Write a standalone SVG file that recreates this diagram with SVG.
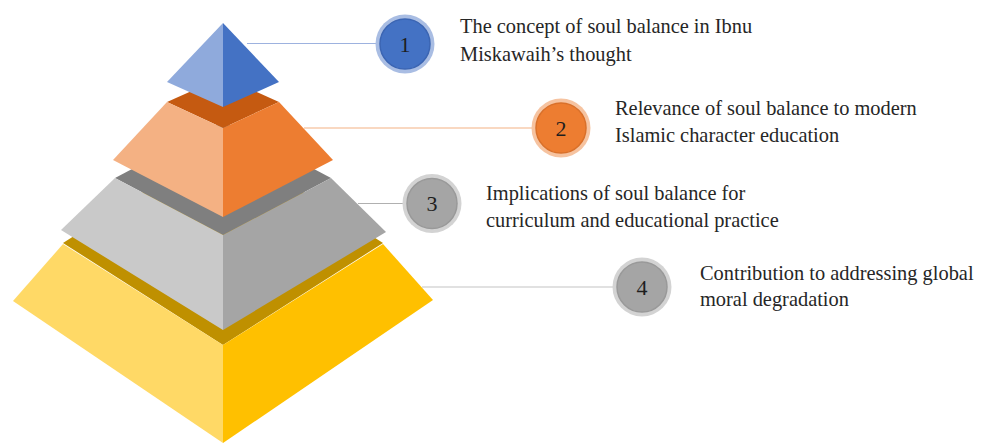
<svg xmlns="http://www.w3.org/2000/svg" width="982" height="443" viewBox="0 0 982 443">
  <style>
    text { font-family: 'Liberation Serif', 'Tinos', 'DejaVu Serif', serif; }
    .lbl { font-size: 20.4px; fill: #262626; }
    .num { font-size: 22px; fill: #1e1e1e; text-anchor: middle; }
    .link { fill: none; stroke-width: 1.2; }
  </style>
  <rect width="982" height="443" fill="#ffffff"/>

  <!-- connectors from each tier to its numbered badge -->
  <g id="connectors">
    <line class="link" x1="247" y1="43.5" x2="377" y2="43.5" stroke="#9db2df"/>
    <line class="link" x1="304" y1="128" x2="533" y2="128" stroke="#f4b183"/>
    <line class="link" x1="358" y1="203.5" x2="404" y2="203.5" stroke="#b0b0b0"/>
    <line class="link" x1="422" y1="287" x2="614" y2="287" stroke="#c4c4c4"/>
  </g>

  <!-- tier 4: yellow base -->
  <g id="tier4">
    <polygon points="63,243 223,141 383,243 223,345" fill="#bf9000"/>
    <polygon points="63,244 223,345 223,443 13,301" fill="#ffd966"/>
    <polygon points="383,244 223,345 223,443 433,300" fill="#ffc000"/>
  </g>

  <!-- tier 3: gray -->
  <g id="tier3">
    <polygon points="115,178 223,121 331,178 223,235" fill="#7f7f7f"/>
    <polygon points="115,178 223,235 223,330 61,230" fill="#c9c9c9"/>
    <polygon points="331,178 223,235 223,330 386,232" fill="#a5a5a5"/>
  </g>

  <!-- tier 2: orange -->
  <g id="tier2">
    <polygon points="167,102 223,77 279,102 223,128" fill="#c55a11"/>
    <polygon points="167,102 223,128 223,217 113,160" fill="#f4b183"/>
    <polygon points="279,102 223,128 223,217 333,160" fill="#ed7d31"/>
  </g>

  <!-- tier 1: blue apex -->
  <g id="tier1">
    <polygon points="223,23 167,82 223,107" fill="#8faadc"/>
    <polygon points="223,23 279,82 223,107" fill="#4472c4"/>
  </g>

  <!-- numbered badges -->
  <g id="badge1">
    <circle cx="405" cy="44" r="29.5" fill="#a9bde3"/>
    <circle cx="405" cy="44" r="25" fill="#4472c4" stroke="#3b65b3" stroke-width="1.5"/>
    <text class="num" x="405" y="51.5" font-family="Liberation Serif, serif">1</text>
  </g>
  <g id="badge2">
    <circle cx="561" cy="128" r="29.5" fill="#f6c3a0"/>
    <circle cx="561" cy="128" r="25" fill="#ed7d31" stroke="#d9702a" stroke-width="1.5"/>
    <text class="num" x="561" y="135.5" font-family="Liberation Serif, serif">2</text>
  </g>
  <g id="badge3">
    <circle cx="432" cy="203.5" r="29.5" fill="#d3d3d3"/>
    <circle cx="432" cy="203.5" r="25" fill="#a5a5a5" stroke="#999999" stroke-width="1.5"/>
    <text class="num" x="432" y="211" font-family="Liberation Serif, serif">3</text>
  </g>
  <g id="badge4">
    <circle cx="642" cy="287" r="29.5" fill="#d3d3d3"/>
    <circle cx="642" cy="287" r="25" fill="#a5a5a5" stroke="#999999" stroke-width="1.5"/>
    <text class="num" x="642" y="294.5" font-family="Liberation Serif, serif">4</text>
  </g>

  <!-- labels -->
  <g id="label1">
    <text class="lbl" x="460" y="33" font-family="Liberation Serif, serif">The concept of soul balance in Ibnu</text>
    <text class="lbl" x="460" y="61" font-family="Liberation Serif, serif">Miskawaih’s thought</text>
  </g>
  <g id="label2">
    <text class="lbl" x="615" y="115" font-family="Liberation Serif, serif">Relevance of soul balance to modern</text>
    <text class="lbl" x="615" y="142" font-family="Liberation Serif, serif">Islamic character education</text>
  </g>
  <g id="label3">
    <text class="lbl" x="486" y="200" font-family="Liberation Serif, serif">Implications of soul balance for</text>
    <text class="lbl" x="486" y="227" font-family="Liberation Serif, serif">curriculum and educational practice</text>
  </g>
  <g id="label4">
    <text class="lbl" x="700" y="280" font-family="Liberation Serif, serif">Contribution to addressing global</text>
    <text class="lbl" x="700" y="306" font-family="Liberation Serif, serif">moral degradation</text>
  </g>
</svg>
